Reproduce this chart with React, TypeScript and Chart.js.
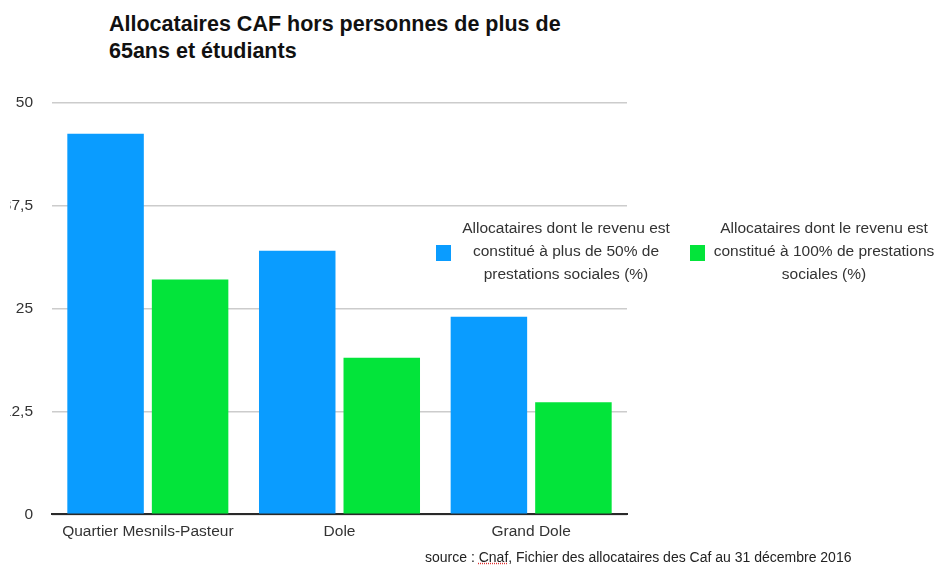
import React, { useEffect, useRef } from "react";
import { Chart, registerables } from "chart.js";

Chart.register(...registerables);

const FONT = "'Liberation Sans', Arial, Helvetica, sans-serif";

const titleLines = ["Allocataires CAF hors personnes de plus de", "65ans et étudiants"];
const categories = ["Quartier Mesnils-Pasteur", "Dole", "Grand Dole"];
const seriesNames = [
  ["Allocataires dont le revenu est", "constitué à plus de 50% de", "prestations sociales (%)"],
  ["Allocataires dont le revenu est", "constitué à 100% de prestations", "sociales (%)"],
];
const seriesColors = ["#0A9CFF", "#03E43A"];
const plus50Values = [46.2, 32.0, 24.0];
const full100Values = [28.5, 19.0, 13.6];
const yTickValues = [0, 12.5, 25, 37.5, 50];
const yTickLabels = ["0", "12,5", "25", "37,5", "50"];
const sourceBefore = "source : ";
const sourceUnderlined = "Cnaf";
const sourceAfter = ", Fichier des allocataires des Caf au 31 décembre 2016";

export default function App() {
  const canvasRef = useRef<HTMLCanvasElement | null>(null);

  useEffect(() => {
    const canvas = canvasRef.current;
    if (!canvas) return;
    const chart = new Chart(canvas, {
      type: "bar",
      data: {
        labels: categories,
        datasets: [
          {
            label: seriesNames[0].join(" "),
            data: plus50Values,
            backgroundColor: seriesColors[0],
            borderWidth: 0,
            barPercentage: 0.905,
            categoryPercentage: 0.882,
          },
          {
            label: seriesNames[1].join(" "),
            data: full100Values,
            backgroundColor: seriesColors[1],
            borderWidth: 0,
            barPercentage: 0.905,
            categoryPercentage: 0.882,
          },
        ],
      },
      options: {
        animation: false,
        responsive: false,
        maintainAspectRatio: false,
        layout: { padding: { left: 3, right: 316, top: 102.5, bottom: 27.7 } },
        plugins: {
          legend: { display: false },
          title: { display: false },
          tooltip: { enabled: false },
        },
        scales: {
          x: {
            grid: { display: false, drawTicks: false },
            border: { display: true, color: "#2a2a2a", width: 2 },
            ticks: {
              color: "#333333",
              padding: 8,
              font: { family: FONT, size: 15.5 },
              maxRotation: 0,
              autoSkip: false,
            },
            afterFit: (axis: any) => {
              axis.height = 27;
            },
          },
          y: {
            min: 0,
            max: 50,
            afterBuildTicks: (axis: any) => {
              axis.ticks = yTickValues.map((v) => ({ value: v }));
            },
            grid: { color: "#cccccc", lineWidth: 1.5, drawTicks: false },
            border: { display: false },
            ticks: {
              color: "#333333",
              padding: 19,
              font: { family: FONT, size: 15.5 },
              callback: (value: any) => {
                const i = yTickValues.indexOf(Number(value));
                return i >= 0 ? yTickLabels[i] : "";
              },
            },
            afterFit: (axis: any) => {
              axis.width = 49;
            },
          },
        },
      },
    });
    return () => chart.destroy();
  }, []);

  const legendPos = [
    { box: 436, center: 566 },
    { box: 690, center: 824 },
  ];

  return (
    <div
      style={{
        position: "fixed",
        left: 0,
        top: 0,
        width: 943,
        height: 569,
        overflow: "hidden",
        background: "#ffffff",
        fontFamily: FONT,
      }}
    >
      <div
        style={{
          position: "absolute",
          left: 109,
          top: 11,
          fontSize: 21.5,
          lineHeight: "27px",
          fontWeight: "bold",
          color: "#111111",
          whiteSpace: "nowrap",
        }}
      >
        {titleLines.map((l, i) => (
          <div key={i}>{l}</div>
        ))}
      </div>

      <div
        style={{
          position: "absolute",
          left: 10,
          top: 0,
          width: 933,
          height: 569,
          overflow: "hidden",
        }}
      >
        <canvas
          ref={canvasRef}
          width={943}
          height={569}
          style={{ position: "absolute", left: -10, top: 0, width: 943, height: 569 }}
        />
      </div>

      {seriesNames.map((lines, i) => (
        <React.Fragment key={i}>
          <div
            style={{
              position: "absolute",
              left: legendPos[i].box,
              top: 245,
              width: 15,
              height: 16,
              background: seriesColors[i],
            }}
          />
          <div
            style={{
              position: "absolute",
              left: legendPos[i].center - 130,
              width: 260,
              top: 215.5,
              fontSize: 15.5,
              lineHeight: "23px",
              textAlign: "center",
              color: "#333333",
              whiteSpace: "nowrap",
            }}
          >
            {lines.map((l, j) => (
              <div key={j}>{l}</div>
            ))}
          </div>
        </React.Fragment>
      ))}

      <div
        style={{
          position: "absolute",
          left: 425,
          top: 548,
          fontSize: 14,
          lineHeight: "18px",
          color: "#222222",
          whiteSpace: "nowrap",
        }}
      >
        {sourceBefore}
        <span style={{ textDecoration: "underline dotted #e03030" }}>{sourceUnderlined}</span>
        {sourceAfter}
      </div>
    </div>
  );
}
